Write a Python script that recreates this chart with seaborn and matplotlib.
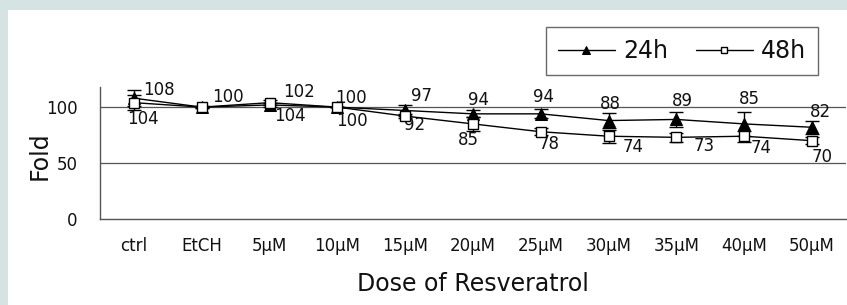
import numpy as np
import pandas as pd
import matplotlib
matplotlib.use("Agg")
import matplotlib.pyplot as plt
from matplotlib.patches import Rectangle
import seaborn as sns

# Data
doses = ['ctrl', 'EtCH', '5μM', '10μM', '15μM', '20μM', '25μM',
         '30μM', '35μM', '40μM', '50μM']
fold_24h = [108, 100, 102, 100, 97, 94, 94, 88, 89, 85, 82]
fold_48h = [104, 100, 104, 100, 92, 85, 78, 74, 73, 74, 70]
err_24h = [7, 1, 2, 0, 5, 3, 4, 7, 7, 11, 6]
err_48h = [7, 1, 2, 0, 2, 6, 3, 6, 4, 5, 3]
labels_24h = ['108', '100', '102', '100', '97', '94', '94', '88', '89', '85', '82']
labels_48h = ['104', None, '104', '100', '92', '85', '78', '74', '73', '74', '70']

# label offsets in pixels (dx, dy up)
off_24h = [(25, 8), (26, 10), (29, 13), (14, 9), (16, 14), (5, 14),
           (3, 17), (2, 17), (6, 18), (5, 25), (8, 15)]
off_48h = [(9, -16), (0, 0), (20, -13), (15, -14), (9, -9), (-5, -16),
           (8, -12), (24, -11), (28, -9), (17, -12), (10, -16)]

df = pd.DataFrame({
    'pos': list(range(len(doses))) * 2,
    'fold': fold_24h + fold_48h,
    'err': err_24h + err_48h,
    'time': ['24h'] * len(doses) + ['48h'] * len(doses),
})

sns.set_style('white')
plt.rcParams['font.family'] = ['DejaVu Sans']

W, H = 847, 305
fig = plt.figure(figsize=(W / 100, H / 100), dpi=100)
fig.patch.set_facecolor('#d5e3e3')

# white inner panel
bg = fig.add_axes([8 / W, 0, 1 - 8 / W, 1 - 10 / H])
bg.set_axis_off()
bg.add_patch(Rectangle((0, 0), 1, 1, transform=bg.transAxes,
                       facecolor='white', edgecolor='none'))

ax = fig.add_axes([100 / W, 86 / H, (846 - 100) / W, (219 - 87) / H])
ax.set_facecolor('none')
ax.set_zorder(2)

for v in (50, 100):
    ax.axhline(v, color='#555555', lw=0.9, zorder=1)

d24 = df[df['time'] == '24h']
d48 = df[df['time'] == '48h']

ax.errorbar(d24['pos'], d24['fold'], yerr=d24['err'], fmt='none', ecolor='black',
            elinewidth=1, capsize=5, capthick=1, zorder=2)
ax.errorbar(d48['pos'], d48['fold'], yerr=d48['err'], fmt='none', ecolor='black',
            elinewidth=1, capsize=5, capthick=1, zorder=2)

sns.lineplot(data=d24, x='pos', y='fold', color='black', lw=1, marker='^',
             markersize=8, markerfacecolor='black', markeredgecolor='black',
             label='24h', ax=ax, zorder=3)
sns.lineplot(data=d48, x='pos', y='fold', color='black', lw=1, marker='s',
             markersize=7, markerfacecolor='white', markeredgecolor='black',
             markeredgewidth=1, label='48h', ax=ax, zorder=4)

# value labels
for x, y, t, (dx, dy) in zip(d24['pos'], d24['fold'], labels_24h, off_24h):
    if t:
        ax.annotate(t, (x, y), xytext=(dx * 0.72, dy * 0.72), textcoords='offset points',
                    ha='center', va='center', fontsize=12, color='#111111')
for x, y, t, (dx, dy) in zip(d48['pos'], d48['fold'], labels_48h, off_48h):
    if t:
        ax.annotate(t, (x, y), xytext=(dx * 0.72, dy * 0.72), textcoords='offset points',
                    ha='center', va='center', fontsize=12, color='#111111')

ax.set_xlim(-0.5, len(doses) - 0.5)
ax.set_ylim(0, 118)
ax.set_yticks([0, 50, 100])
ax.set_xticks(range(len(doses)))
ax.set_xticklabels(doses)
ax.set_xticks(np.arange(0.5, len(doses), 1.0), minor=True)
ax.tick_params(axis='x', which='major', length=0, pad=13, labelsize=12,
               labelcolor='#111111')
ax.tick_params(axis='x', which='minor', direction='in', length=4, color='#555555')
ax.tick_params(axis='y', length=0, pad=16, labelsize=12, labelcolor='#111111')

for s in ('top', 'right'):
    ax.spines[s].set_visible(False)
for s in ('left', 'bottom'):
    ax.spines[s].set_color('#555555')
    ax.spines[s].set_linewidth(1)

ax.set_xlabel('Dose of Resveratrol', fontsize=17, labelpad=12, color='#111111')
ax.set_ylabel('Fold', fontsize=17, color='#111111', va='center')
ax.yaxis.set_label_coords((40 - 100) / 746, 0.48)

leg = ax.legend(loc='upper right', bbox_to_anchor=(818 / W, 1 - 27 / H),
                bbox_transform=fig.transFigure, ncol=2, fontsize=17,
                frameon=True, fancybox=False, edgecolor='#444444',
                handlelength=2.4, columnspacing=1.2, handletextpad=0.35,
                borderpad=0.5, borderaxespad=0, markerscale=0.65)
leg.get_frame().set_linewidth(1)
for t in leg.get_texts():
    t.set_color('#111111')

fig.savefig('out.png', dpi=100, facecolor=fig.get_facecolor())
